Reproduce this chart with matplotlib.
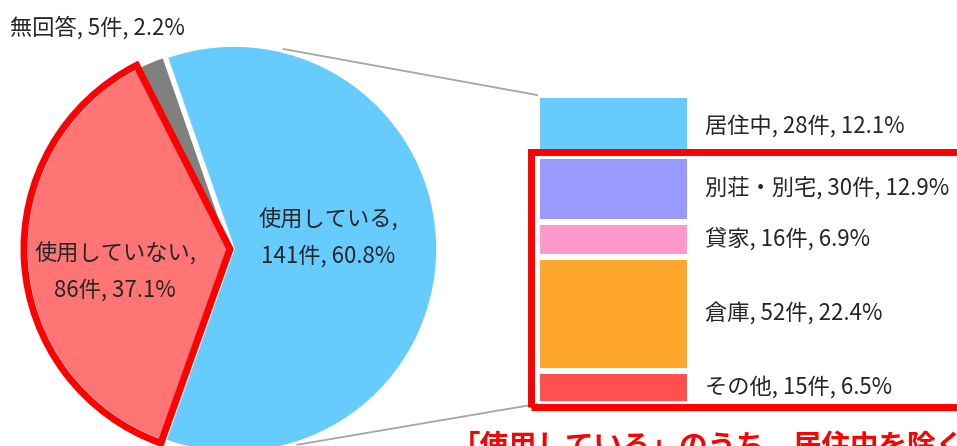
import matplotlib.pyplot as plt
from matplotlib.patches import Wedge, Rectangle
import numpy as np

plt.rcParams['font.family'] = ['Noto Sans CJK JP', 'DejaVu Sans']

# pie: usage of the building
pie_names = ['使用している', '無回答', '使用していない']
pie_counts = [141, 5, 86]
pie_pcts = [60.8, 2.2, 37.1]
pie_colors = ['#66CCFF', '#808080', '#FF7575']

# breakdown of 使用している
bar_names = ['居住中', '別荘・別宅', '貸家', '倉庫', 'その他']
bar_counts = [28, 30, 16, 52, 15]
bar_pcts = [12.1, 12.9, 6.9, 22.4, 6.5]
bar_colors = ['#66CCFF', '#9999FF', '#FF99CC', '#FFA62C', '#FF5050']

W, H = 957, 446
fig = plt.figure(figsize=(W / 100, H / 100), dpi=100)

# stacked bar on its own axes (kept underneath the main one)
bx0, bx1, by0, by1 = 537, 690, 95, 404
bax = fig.add_axes([bx0 / W, (H - by1) / H, (bx1 - bx0) / W, (by1 - by0) / H])
bax.set_zorder(0)
bax.set_xlim(-0.5, 0.5)
bax.set_ylim(sum(bar_counts), 0)
bax.axis('off')
bottoms = np.cumsum([0] + bar_counts[:-1])
bax.bar(0, bar_counts, bottom=bottoms, width=1, color=bar_colors,
        edgecolor='white', linewidth=4.3, clip_on=False)

ax = fig.add_axes([0, 0, 1, 1])
ax.set_zorder(1)
ax.patch.set_visible(False)
ax.axis('off')

cx, cy, r = 230, H - 249, 203
start = -109.6
wedges, _ = ax.pie(pie_counts, colors=pie_colors, center=(cx, cy), radius=r,
                   startangle=start, counterclock=True, explode=[4, 0, 0],
                   wedgeprops=dict(edgecolor='white', linewidth=1.2))
ax.set_xlim(0, W)
ax.set_ylim(0, H)
ax.set_aspect('auto')

# red outline round the 使用していない slice
tot = sum(pie_counts)
a1 = start + 360 * sum(pie_counts[:2]) / tot
a2 = a1 + 360 * pie_counts[2] / tot
ax.add_patch(Wedge((cx, cy), r + 3, a1, a2, fill=False, edgecolor='#FF0000',
                   linewidth=5, joinstyle='miter'))

fs = 16
ax.text(328, H - 238, '使用している,\n%d件, %.1f%%' % (pie_counts[0], pie_pcts[0]),
        ha='center', va='center', fontsize=fs, color='#262626', linespacing=1.75)
ax.text(115, H - 272, '使用していない,\n%d件, %.1f%%' % (pie_counts[2], pie_pcts[2]),
        ha='center', va='center', fontsize=fs, color='#262626', linespacing=1.75)
ax.text(10, H - 28, '%s, %d件, %.1f%%' % (pie_names[1], pie_counts[1], pie_pcts[1]),
        ha='left', va='center', fontsize=fs, color='#262626')

# segment labels placed at segment middles
for name, n, p, b in zip(bar_names, bar_counts, bar_pcts, bottoms):
    y = by0 + (b + n / 2) / sum(bar_counts) * (by1 - by0)
    ax.text(705, H - y, '%s, %d件, %.1f%%' % (name, n, p),
            ha='left', va='center', fontsize=fs, color='#262626')

# connector lines
for ang, (px, py) in [(75, (bx0, by0)), (-71, (bx0, by1))]:
    sx = cx + (r + 4) * np.cos(np.radians(ang))
    sy = cy + (r + 4) * np.sin(np.radians(ang))
    ax.plot([sx, px], [sy, H - py], color='#A6A6A6', lw=1.3, zorder=0.5)

# red frame round the non-residential part
ax.add_patch(Rectangle((531, H - 406.5), 500, 255, fill=False,
                       edgecolor='#FF0000', linewidth=5, zorder=5))
ax.text(452, H - 433, '「使用している」のうち、居住中を除く', ha='left', va='top',
        fontsize=20.5, fontweight='bold', color='#FF0000')

fig.savefig('out.png', dpi=100)
